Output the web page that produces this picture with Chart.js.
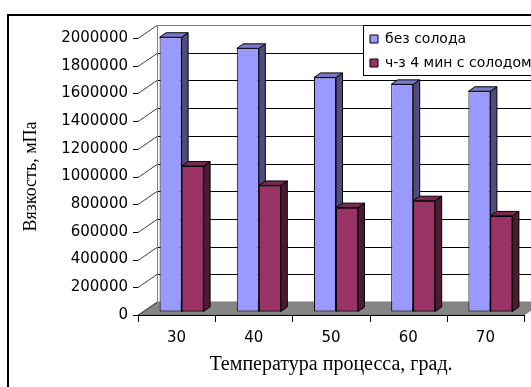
<!DOCTYPE html>
<html>
<head>
<meta charset="utf-8">
<script src="https://cdn.jsdelivr.net/npm/chart.js@4/dist/chart.umd.min.js"></script>
<style>
  html, body { margin: 0; padding: 0; background: #fff; }
  canvas { display: block; }
</style>
</head>
<body>
<canvas id="chart" width="531" height="387"></canvas>
<script>
// Viscosity of the mash at different process temperatures
const categories = ['30', '40', '50', '60', '70'];
const withoutMalt = [1980000, 1900000, 1690000, 1640000, 1590000];
const malt4min = [1050000, 910000, 750000, 800000, 690000];
const seriesNames = ['без солода', 'ч-з 4 мин с солодом'];
const yTickValues = [0, 200000, 400000, 600000, 800000, 1000000, 1200000, 1400000, 1600000, 1800000, 2000000];

// Pseudo-3D look: depth of the walls, where the bars stand inside it, and bar depth
const WALL = { dx: 19, dy: -13 };
const BAR_SHIFT = { dx: 5, dy: -3.5 };
const BAR_DEPTH = { dx: 6.5, dy: -4.5 };
const FRONT = ['#9999FF', '#993366'];
const SHADES = [
  { top: '#7A7ACC', side: '#4D4D80' },
  { top: '#7A2952', side: '#4D1A33' }
];

function poly(ctx, pts, fill, stroke) {
  ctx.beginPath();
  ctx.moveTo(pts[0][0], pts[0][1]);
  for (let i = 1; i < pts.length; i++) ctx.lineTo(pts[i][0], pts[i][1]);
  ctx.closePath();
  if (fill) { ctx.fillStyle = fill; ctx.fill(); }
  if (stroke) { ctx.strokeStyle = stroke; ctx.lineWidth = 1; ctx.stroke(); }
}

function line(ctx, x1, y1, x2, y2, color, w) {
  ctx.beginPath();
  ctx.moveTo(x1, y1);
  ctx.lineTo(x2, y2);
  ctx.strokeStyle = color;
  ctx.lineWidth = w || 1;
  ctx.stroke();
}

const snap = v => Math.round(v) + 0.5;

const boxScene = {
  id: 'boxScene',
  beforeDraw(chart) {
    const ctx = chart.ctx;
    const { left, right, top, bottom } = chart.chartArea;
    const ys = chart.scales.y;
    const xs = chart.scales.x;
    ctx.save();
    ctx.fillStyle = '#fff';
    ctx.fillRect(0, 0, chart.width, chart.height);

    // outer frame
    ctx.strokeStyle = '#000';
    ctx.lineWidth = 2;
    ctx.strokeRect(8, 15, chart.width + 20, chart.height + 20);

    // floor
    poly(ctx, [[left, bottom], [right, bottom], [right + WALL.dx, bottom + WALL.dy], [left + WALL.dx, bottom + WALL.dy]], '#858585', '#808080');

    // gridlines on back and side walls
    yTickValues.forEach((v, i) => {
      const yf = snap(ys.getPixelForValue(v));
      const yb = snap(ys.getPixelForValue(v) + WALL.dy);
      const last = i === yTickValues.length - 1;
      if (v !== 0) line(ctx, left + WALL.dx, yb, right + WALL.dx, yb, last ? '#808080' : '#000');
      line(ctx, left, yf, left + WALL.dx, yb, '#404040');
      line(ctx, left - 5, yf, left, yf, '#000');
    });
    // back wall left edge
    line(ctx, snap(left + WALL.dx), top + WALL.dy, snap(left + WALL.dx), bottom + WALL.dy, '#808080');

    // category axis on the front edge of the floor
    line(ctx, left, snap(bottom), right, snap(bottom), '#000');
    const step = xs.getPixelForValue(1) - xs.getPixelForValue(0);
    for (let i = 0; i <= categories.length; i++) {
      const x = snap(xs.getPixelForValue(0) - step / 2 + i * step);
      line(ctx, x, bottom, x, bottom + 7, '#000');
    }

    // legend panel
    ctx.fillStyle = '#fff';
    ctx.fillRect(363.5, 25.5, 200, 50);
    ctx.strokeStyle = '#000';
    ctx.lineWidth = 1;
    ctx.strokeRect(363.5, 25.5, 200, 50);
    ctx.restore();

    const lg = chart.legend;
    if (lg) {
      lg.left = 360;
      lg.top = 22;
      lg.right = 700;
    }
  },
  beforeDatasetsDraw(chart) {
    chart.ctx.save();
    chart.ctx.translate(BAR_SHIFT.dx, BAR_SHIFT.dy);
  },
  afterDatasetsDraw(chart) {
    const ctx = chart.ctx;
    const metas = [chart.getDatasetMeta(0), chart.getDatasetMeta(1)];
    for (let i = 0; i < categories.length; i++) {
      metas.forEach((meta, d) => {
        const el = meta.data[i];
        if (d > 0) el.draw(ctx);
        const p = el.getProps(['x', 'y', 'base', 'width'], true);
        const l = p.x - p.width / 2, r = p.x + p.width / 2;
        const t = Math.min(p.y, p.base), b = Math.max(p.y, p.base);
        poly(ctx, [[r, t], [r + BAR_DEPTH.dx, t + BAR_DEPTH.dy], [r + BAR_DEPTH.dx, b + BAR_DEPTH.dy], [r, b]], SHADES[d].side, '#000');
        poly(ctx, [[l, t], [r, t], [r + BAR_DEPTH.dx, t + BAR_DEPTH.dy], [l + BAR_DEPTH.dx, t + BAR_DEPTH.dy]], SHADES[d].top, '#000');
      });
    }
    ctx.restore();
  }
};

Chart.defaults.font.family = 'DejaVu Sans';
Chart.defaults.color = '#000';

new Chart(document.getElementById('chart'), {
  type: 'bar',
  data: {
    labels: categories,
    datasets: [
      { label: seriesNames[0], data: withoutMalt, backgroundColor: FRONT[0], borderColor: '#000', borderWidth: 1, borderSkipped: false, clip: false },
      { label: seriesNames[1], data: malt4min, backgroundColor: FRONT[1], borderColor: '#000', borderWidth: 1, borderSkipped: false, clip: false }
    ]
  },
  options: {
    responsive: false,
    animation: false,
    events: [],
    layout: { padding: { left: 0, top: 38, right: 7, bottom: 0 } },
    datasets: { bar: { categoryPercentage: 0.57, barPercentage: 1.0 } },
    scales: {
      x: {
        grid: { display: false, drawTicks: false },
        border: { display: false },
        ticks: { padding: 14, font: { size: 15 }, color: '#000' },
        title: {
          display: true,
          text: 'Температура процесса, град.',
          font: { family: 'Liberation Serif', size: 20 },
          padding: { top: 0, bottom: 10 },
          color: '#000'
        },
        afterFit(s) { s.height = 72; }
      },
      y: {
        min: 0,
        max: 2000000,
        grid: { display: false, drawTicks: false },
        border: { display: false },
        afterBuildTicks(s) { s.ticks = yTickValues.map(v => ({ value: v })); },
        ticks: { padding: 10, font: { size: 15 }, color: '#000', callback: v => String(v) },
        title: {
          display: true,
          text: 'Вязкость, мПа',
          font: { family: 'Liberation Serif', size: 18 },
          padding: { top: 20, bottom: 0 },
          color: '#000'
        },
        afterFit(s) { s.width = 138; }
      }
    },
    plugins: {
      tooltip: { enabled: false },
      legend: {
        position: 'chartArea',
        align: 'start',
        labels: {
          boxWidth: 8,
          boxHeight: 8,
          padding: 10,
          color: '#000',
          font: { family: 'DejaVu Sans', size: 14 }
        }
      }
    }
  },
  plugins: [boxScene]
});
</script>
</body>
</html>
